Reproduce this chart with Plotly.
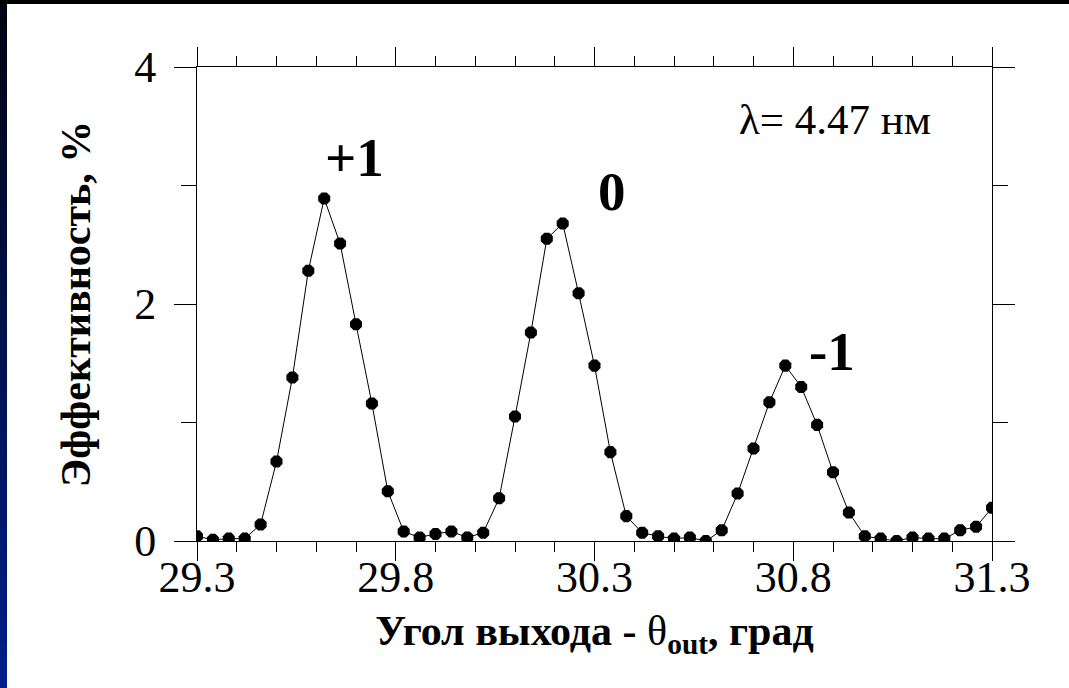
import plotly.graph_objects as go

# Data
angle = [29.30, 29.34, 29.38, 29.42, 29.46, 29.50, 29.54, 29.58, 29.62, 29.66,
         29.70, 29.74, 29.78, 29.82, 29.86, 29.90, 29.94, 29.98, 30.02, 30.06,
         30.10, 30.14, 30.18, 30.22, 30.26, 30.30, 30.34, 30.38, 30.42, 30.46,
         30.50, 30.54, 30.58, 30.62, 30.66, 30.70, 30.74, 30.78, 30.82, 30.86,
         30.90, 30.94, 30.98, 31.02, 31.06, 31.10, 31.14, 31.18, 31.22, 31.26,
         31.30]
efficiency = [0.04, 0.01, 0.02, 0.02, 0.14, 0.67, 1.38, 2.28, 2.89, 2.51,
              1.83, 1.16, 0.42, 0.08, 0.03, 0.06, 0.08, 0.03, 0.07, 0.36,
              1.05, 1.76, 2.55, 2.68, 2.09, 1.48, 0.75, 0.21, 0.07, 0.04,
              0.02, 0.03, 0.00, 0.09, 0.40, 0.78, 1.17, 1.48, 1.30, 0.98,
              0.58, 0.24, 0.04, 0.02, 0.00, 0.03, 0.02, 0.02, 0.09, 0.12,
              0.28]

x_ticks = [29.3, 29.8, 30.3, 30.8, 31.3]
x_tick_labels = ["29.3", "29.8", "30.3", "30.8", "31.3"]
y_ticks = [0, 2, 4]
y_tick_labels = ["0", "2", "4"]

order_labels = ["+1", "0", "-1"]
order_x = [29.697, 30.343, 30.898]
order_y = [3.24, 2.95, 1.60]

SERIF = "Liberation Serif, Times New Roman, serif"

fig = go.Figure()
fig.add_trace(go.Scatter(
    x=angle, y=efficiency, mode="lines+markers",
    line=dict(color="black", width=1),
    marker=dict(symbol="octagon", size=13, color="black"),
    showlegend=False,
))

W, H = 1069, 688
ML, MR, MT, MB = 197, 77, 67, 147
pw, ph = W - ML - MR, H - MT - MB

def px_x(p):
    return (p - ML) / pw

def px_y(p):
    return 1 - (p - MT) / ph

shapes = []
# left dark-blue gradient band (black at top to blue at bottom)
n = 30
for i in range(n):
    t = i / (n - 1)
    r, g, b = 0, int(5 + 25 * t), int(20 + 115 * t)
    y0 = H * i / n
    y1 = H * (i + 1) / n + 1.5
    shapes.append(dict(type="rect", xref="paper", yref="paper",
                       x0=px_x(0), x1=px_x(7), y0=px_y(y1), y1=px_y(y0),
                       fillcolor=f"rgb({r},{g},{b})", line=dict(width=0), layer="above"))
# top black band
shapes.append(dict(type="rect", xref="paper", yref="paper",
                   x0=px_x(0), x1=px_x(W), y0=px_y(4), y1=px_y(0),
                   fillcolor="black", line=dict(width=0), layer="above"))

annotations = []
for lab, ax, ay in zip(order_labels, order_x, order_y):
    annotations.append(dict(x=ax, y=ay, xref="x", yref="y", text=f"<b>{lab}</b>",
                            showarrow=False, font=dict(family=SERIF, size=55, color="black")))
annotations.append(dict(x=30.904, y=3.56, xref="x", yref="y", text="λ= 4.47 нм",
                        showarrow=False, font=dict(family=SERIF, size=43, color="black")))

fig.update_layout(
    width=W, height=H,
    margin=dict(l=ML, r=MR, t=MT, b=MB),
    paper_bgcolor="white", plot_bgcolor="white",
    font=dict(family=SERIF, color="black"),
    shapes=shapes,
    annotations=annotations,
    xaxis=dict(
        range=[29.3, 31.3], tickmode="array", tickvals=x_ticks, ticktext=x_tick_labels,
        ticks="outside", ticklen=19, tickwidth=1, tickcolor="black",
        minor=dict(dtick=0.1, tick0=29.3, ticks="outside", ticklen=10, tickwidth=1, tickcolor="black"),
        showline=True, linecolor="black", linewidth=1, mirror="ticks",
        showgrid=False, zeroline=False,
        tickfont=dict(family=SERIF, size=44, color="black"),
        ticklabelstandoff=-22,
        title=dict(text="<b>Угол выхода - </b>θ<sub><b>out</b></sub><b>, град</b>",
                   font=dict(family=SERIF, size=42, color="black"), standoff=14),
    ),
    yaxis=dict(
        range=[0, 4], tickmode="array", tickvals=y_ticks, ticktext=y_tick_labels,
        ticks="outside", ticklen=22, tickwidth=1, tickcolor="black",
        minor=dict(dtick=1, tick0=0, ticks="outside", ticklen=15, tickwidth=1, tickcolor="black"),
        showline=True, linecolor="black", linewidth=1, mirror="ticks",
        showgrid=False, zeroline=False,
        tickfont=dict(family=SERIF, size=44, color="black"),
        ticklabelstandoff=9,
        title=dict(text="<b>Эффективность, %</b>",
                   font=dict(family=SERIF, size=42, color="black"), standoff=30),
    ),
)

fig.write_html(
    "out.html",
    config={"displayModeBar": False},
    post_script="document.body.style.margin='0';document.body.style.overflow='hidden';",
)
